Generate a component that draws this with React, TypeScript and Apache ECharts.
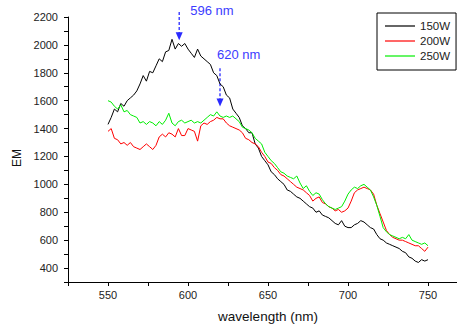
import React, { useEffect, useRef } from "react";
import * as echarts from "echarts";

// wavelength (nm), 2 nm steps
const wavelength = [
  550, 552, 554, 556, 558, 560, 562, 564, 566, 568,
  570, 572, 574, 576, 578, 580, 582, 584, 586, 588,
  590, 592, 594, 596, 598, 600, 602, 604, 606, 608,
  610, 612, 614, 616, 618, 620, 622, 624, 626, 628,
  630, 632, 634, 636, 638, 640, 642, 644, 646, 648,
  650, 652, 654, 656, 658, 660, 662, 664, 666, 668,
  670, 672, 674, 676, 678, 680, 682, 684, 686, 688,
  690, 692, 694, 696, 698, 700, 702, 704, 706, 708,
  710, 712, 714, 716, 718, 720, 722, 724, 726, 728,
  730, 732, 734, 736, 738, 740, 742, 744, 746, 748,
  750,
];

const em150W = [
  1430, 1480, 1540, 1520, 1580, 1560, 1600, 1620, 1640, 1670,
  1720, 1780, 1740, 1810, 1800, 1850, 1900, 1880, 1950, 1960,
  2040, 1970, 2010, 1990, 2010, 1970, 1940, 1910, 1970, 1920,
  1900, 1880, 1860, 1800, 1780, 1720, 1700, 1640, 1620, 1540,
  1510, 1480, 1420, 1400, 1370, 1370, 1290, 1260, 1200, 1170,
  1140, 1090, 1070, 1040, 1020, 1000, 960, 950, 930, 910,
  900, 880, 860, 840, 830, 800, 810, 780, 770, 760,
  740, 720, 710, 740, 700, 690, 690, 710, 720, 740,
  730, 710, 690, 680, 640, 610, 600, 580, 570, 560,
  550, 540, 520, 510, 480, 470, 450, 440, 460, 450,
  460,
];

const em200W = [
  1380, 1400, 1330, 1320, 1290, 1300, 1280, 1300, 1270, 1260,
  1250, 1270, 1290, 1270, 1250, 1280, 1340, 1360, 1340, 1370,
  1360, 1340, 1400, 1350, 1350, 1400, 1390, 1380, 1310, 1420,
  1440, 1430, 1450, 1460, 1480, 1470, 1470, 1440, 1420, 1410,
  1400, 1390, 1370, 1330, 1320, 1300, 1290, 1270, 1230, 1200,
  1160, 1150, 1120, 1100, 1070, 1060, 1040, 1020, 1000, 980,
  970, 960, 940, 920, 880, 900, 910, 870, 860, 840,
  830, 810, 820, 800, 810, 830, 880, 940, 960, 970,
  980, 970, 960, 930, 850, 790, 730, 670, 640, 620,
  610, 600, 600, 590, 580, 570, 560, 560, 540, 520,
  550,
];

const em250W = [
  1600, 1590, 1560, 1540, 1570, 1520, 1530, 1500, 1490, 1480,
  1440, 1450, 1430, 1450, 1440, 1420, 1450, 1430, 1460, 1510,
  1440, 1420, 1450, 1460, 1440, 1450, 1460, 1440, 1450, 1440,
  1460, 1480, 1500, 1490, 1520, 1490, 1480, 1490, 1480, 1490,
  1470, 1450, 1410, 1400, 1390, 1370, 1330, 1310, 1290, 1230,
  1200, 1170, 1150, 1120, 1090, 1080, 1060, 1050, 1040, 1060,
  1010, 970, 990, 950, 920, 940, 930, 890, 860, 840,
  830, 820, 830, 840, 880, 930, 960, 980, 970, 990,
  1000, 980, 960, 910, 850, 770, 690, 660, 640, 630,
  620, 610, 620, 610, 640, 600, 590, 580, 570, 580,
  560,
];

const seriesNames = ["150W", "200W", "250W"];
const seriesColors = ["#000000", "#ff0000", "#00ee00"];

// peak annotations: label, arrow x (nm), arrow top and tip (EM)
const peakLabels = ["596 nm", "620 nm"];
const peakArrowX = [594.5, 620];
const peakArrowTop = [2236, 1833];
const peakArrowTip = [2034, 1559];

const FONT = '"Liberation Sans", Arial, sans-serif';
const BLUE = "#2a2aff";

export default function App() {
  const ref = useRef<HTMLDivElement>(null);

  useEffect(() => {
    if (!ref.current) return;
    const chart = echarts.init(ref.current, null, { renderer: "svg" });
    const values = [em150W, em200W, em250W];

    const emLabel = {
      type: "text",
      x: 17,
      y: 158,
      rotation: Math.PI / 2,
      style: {
        text: "EM",
        font: `12px ${FONT}`,
        fill: "#111",
        align: "center",
        verticalAlign: "middle",
      },
    };

    chart.setOption({
      animation: false,
      backgroundColor: "#ffffff",
      grid: {
        left: 68,
        top: 17,
        bottom: 45,
        width: 400,
        containLabel: false,
        outerBoundsMode: "none",
      },
      legend: {
        orient: "vertical",
        left: 377,
        top: 13,
        padding: [7, 6, 8, 8],
        itemGap: 3,
        itemWidth: 30,
        itemHeight: 1.2,
        icon: "rect",
        borderColor: "#000",
        borderWidth: 1,
        data: seriesNames,
        textStyle: { fontFamily: FONT, fontSize: 11.5, color: "#222", lineHeight: 10 },
      },
      xAxis: {
        type: "value",
        min: 525,
        max: 775,
        interval: 25,
        name: "wavelength (nm)",
        nameLocation: "middle",
        nameGap: 27,
        nameTextStyle: { fontFamily: FONT, fontSize: 13.5, color: "#111" },
        axisLine: { onZero: false, lineStyle: { color: "#000", width: 1 } },
        axisTick: { length: 4, lineStyle: { color: "#000" } },
        axisLabel: {
          fontFamily: FONT,
          fontSize: 11,
          color: "#222",
          margin: 7,
          formatter: (v: number) => (v % 50 === 0 && v <= 750 ? String(v) : ""),
        },
        splitLine: { show: false },
      },
      yAxis: {
        type: "value",
        min: 300,
        max: 2200,
        interval: 100,
        axisLine: { show: true, lineStyle: { color: "#000", width: 1 } },
        axisTick: { show: true, length: 4, lineStyle: { color: "#000" } },
        axisLabel: {
          fontFamily: FONT,
          fontSize: 11,
          color: "#222",
          margin: 10,
          formatter: (v: number) => (v % 200 === 0 ? String(v) : ""),
        },
        splitLine: { show: false },
      },
      graphic: [emLabel],
      series: seriesNames.map((name, i) => ({
        name,
        type: "line",
        data: wavelength.map((w, j) => [w, values[i][j]]),
        showSymbol: false,
        symbol: "none",
        lineStyle: { color: seriesColors[i], width: 1 },
        itemStyle: { color: seriesColors[i] },
        clip: false,
      })),
    });

    const labelOffsets = [
      [11, -1],
      [-3, -14],
    ];
    const g: any[] = [];
    peakLabels.forEach((label, i) => {
      const top = chart.convertToPixel({ gridIndex: 0 }, [peakArrowX[i], peakArrowTop[i]]) as number[];
      const tip = chart.convertToPixel({ gridIndex: 0 }, [peakArrowX[i], peakArrowTip[i]]) as number[];
      g.push({
        type: "line",
        shape: { x1: top[0], y1: top[1], x2: tip[0], y2: tip[1] - 7 },
        style: { stroke: BLUE, lineWidth: 1.3, lineDash: [3, 2] },
      });
      g.push({
        type: "polygon",
        shape: {
          points: [
            [tip[0] - 3.5, tip[1] - 8],
            [tip[0] + 3.5, tip[1] - 8],
            [tip[0], tip[1]],
          ],
        },
        style: { fill: BLUE },
      });
      g.push({
        type: "text",
        x: top[0] + labelOffsets[i][0],
        y: top[1] + labelOffsets[i][1],
        style: {
          text: label,
          font: `13px ${FONT}`,
          fill: "#3c3cff",
          verticalAlign: "middle",
        },
      });
    });
    chart.setOption({ graphic: [emLabel, ...g] });

    return () => chart.dispose();
  }, []);

  return (
    <div
      ref={ref}
      style={{ position: "absolute", left: 0, top: 0, width: 457, height: 327 }}
    />
  );
}
